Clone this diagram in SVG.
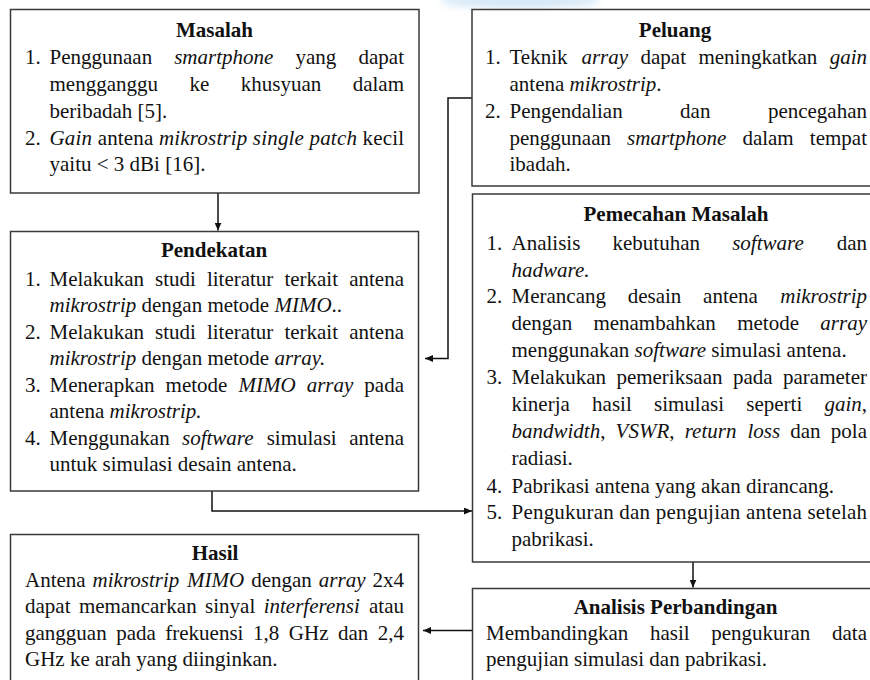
<svg xmlns="http://www.w3.org/2000/svg" width="870" height="680" viewBox="0 0 870 680">
<defs>
<style>
text { font-family: "Liberation Serif", "Times New Roman", serif; font-size: 21px; fill: #111; }
.t { font-weight: bold; text-anchor: middle; }
.i { font-style: italic; }
.e { text-anchor: end; }
.box { fill: #fff; stroke: #3a3a3a; stroke-width: 1.5; }
.conn { fill: none; stroke: #111; stroke-width: 1.5; }
</style>
<marker id="ah" markerUnits="userSpaceOnUse" markerWidth="8" markerHeight="7" refX="8" refY="3.5" orient="auto">
<path d="M0,0 L8,3.5 L0,7 z" fill="#111"/>
</marker>
<filter id="blur"><feGaussianBlur stdDeviation="4"/></filter>
</defs>
<rect x="0" y="0" width="870" height="680" fill="#fff"/>
<ellipse cx="520" cy="0" rx="80" ry="9" fill="#d6e8f7" filter="url(#blur)"/>

<g id="connectors">
<path class="conn" d="M218,193 V230.5" marker-end="url(#ah)"/>
<path class="conn" d="M472,98 H448 V358.5 H425" marker-end="url(#ah)"/>
<path class="conn" d="M212,491 V511 H472" marker-end="url(#ah)"/>
<path class="conn" d="M693,562 V587.5" marker-end="url(#ah)"/>
<path class="conn" d="M472,630.5 H423" marker-end="url(#ah)"/>
</g>

<g id="masalah">
<rect class="box" x="10.5" y="9.5" width="408.5" height="183.5"/>
<text class="t" x="214.5" y="37">Masalah</text>
<text x="25" y="64">1.</text>
<text y="64"><tspan x="49.5">Penggunaan</tspan><tspan x="174.2" class="i">smartphone</tspan><tspan x="295.5">yang</tspan><tspan x="404" class="e">dapat</tspan></text>
<text y="91"><tspan x="49.5">mengganggu</tspan><tspan x="189.5">ke</tspan><tspan x="240.8">khusyuan</tspan><tspan x="404" class="e">dalam</tspan></text>
<text x="49.5" y="117.5">beribadah [5].</text>
<text x="25" y="144.5">2.</text>
<text x="49.5" y="144.5" textLength="354.5" lengthAdjust="spacing"><tspan class="i">Gain</tspan> antena <tspan class="i">mikrostrip single patch</tspan> kecil</text>
<text x="49.5" y="171">yaitu &lt; 3 dBi [16].</text>
</g>

<g id="peluang">
<rect class="box" x="472" y="9.5" width="412" height="176.5"/>
<text class="t" x="675" y="37">Peluang</text>
<text x="485" y="64">1.</text>
<text y="64"><tspan x="509.5">Teknik</tspan><tspan x="581.4" class="i">array</tspan><tspan x="640.5">dapat</tspan><tspan x="698.4">meningkatkan</tspan><tspan x="867" class="e i">gain</tspan></text>
<text x="509.5" y="91">antena <tspan class="i">mikrostrip</tspan>.</text>
<text x="485" y="117.5">2.</text>
<text y="117.5"><tspan x="509.5">Pengendalian</tspan><tspan x="680.1">dan</tspan><tspan x="867" class="e">pencegahan</tspan></text>
<text y="144.5"><tspan x="509.5">penggunaan</tspan><tspan x="627.1" class="i">smartphone</tspan><tspan x="742.4">dalam</tspan><tspan x="867" class="e">tempat</tspan></text>
<text x="509.5" y="171">ibadah.</text>
</g>

<g id="pendekatan">
<rect class="box" x="10.5" y="231.5" width="408" height="259.5"/>
<text class="t" x="214" y="257">Pendekatan</text>
<text x="25" y="285.5">1.</text>
<text y="285.5"><tspan x="49.5">Melakukan</tspan><tspan x="155">studi</tspan><tspan x="206.9">literatur</tspan><tspan x="284.4">terkait</tspan><tspan x="404" class="e">antena</tspan></text>
<text x="49.5" y="312"><tspan class="i">mikrostrip</tspan> dengan metode <tspan class="i">MIMO</tspan>..</text>
<text x="25" y="338.5">2.</text>
<text y="338.5"><tspan x="49.5">Melakukan</tspan><tspan x="155">studi</tspan><tspan x="206.9">literatur</tspan><tspan x="284.4">terkait</tspan><tspan x="404" class="e">antena</tspan></text>
<text x="49.5" y="365"><tspan class="i">mikrostrip</tspan> dengan metode <tspan class="i">array.</tspan></text>
<text x="25" y="391.5">3.</text>
<text y="391.5"><tspan x="49.5">Menerapkan</tspan><tspan x="165.6">metode</tspan><tspan x="238.5" class="i">MIMO</tspan><tspan x="306.7" class="i">array</tspan><tspan x="404" class="e">pada</tspan></text>
<text x="49.5" y="418">antena <tspan class="i">mikrostrip.</tspan></text>
<text x="25" y="444.5">4.</text>
<text y="444.5"><tspan x="49.5">Menggunakan</tspan><tspan x="182" class="i">software</tspan><tspan x="266.7">simulasi</tspan><tspan x="404" class="e">antena</tspan></text>
<text x="49.5" y="471">untuk simulasi desain antena.</text>
</g>

<g id="pemecahan-masalah">
<rect class="box" x="472.5" y="194" width="412" height="368"/>
<text class="t" x="676" y="220.5">Pemecahan Masalah</text>
<text x="486.5" y="250">1.</text>
<text y="250"><tspan x="511.5">Analisis</tspan><tspan x="612.5">kebutuhan</tspan><tspan x="732.2" class="i">software</tspan><tspan x="867" class="e">dan</tspan></text>
<text x="511.5" y="276.5" class="i">hadware.</text>
<text x="486.5" y="303">2.</text>
<text y="303"><tspan x="511.5">Merancang</tspan><tspan x="627.7">desain</tspan><tspan x="703.1">antena</tspan><tspan x="867" class="e i">mikrostrip</tspan></text>
<text y="330"><tspan x="511.5">dengan</tspan><tspan x="593.4">menambahkan</tspan><tspan x="737.2">metode</tspan><tspan x="867" class="e i">array</tspan></text>
<text x="511.5" y="356.5">menggunakan <tspan class="i">software</tspan> simulasi antena.</text>
<text x="486.5" y="384">3.</text>
<text y="384"><tspan x="511.5">Melakukan</tspan><tspan x="616.4">pemeriksaan</tspan><tspan x="732.9">pada</tspan><tspan x="867" class="e">parameter</tspan></text>
<text y="411"><tspan x="511.5">kinerja</tspan><tspan x="592.1">hasil</tspan><tspan x="654">simulasi</tspan><tspan x="746.3">seperti</tspan><tspan x="867" class="e"><tspan class="i">gain</tspan>,</tspan></text>
<text y="438"><tspan x="511.5"><tspan class="i">bandwidth</tspan>,</tspan><tspan x="615.6"><tspan class="i">VSWR</tspan>,</tspan><tspan x="684.7" class="i">return</tspan><tspan x="747.4" class="i">loss</tspan><tspan x="790.3">dan</tspan><tspan x="867" class="e">pola</tspan></text>
<text x="511.5" y="465">radiasi.</text>
<text x="486.5" y="492.5">4.</text>
<text x="511.5" y="492.5">Pabrikasi antena yang akan dirancang.</text>
<text x="486.5" y="519">5.</text>
<text x="511.5" y="519" textLength="355.5" lengthAdjust="spacing">Pengukuran dan pengujian antena setelah</text>
<text x="511.5" y="545.5">pabrikasi.</text>
</g>

<g id="hasil">
<rect class="box" x="10.5" y="534.5" width="408" height="160"/>
<text class="t" x="215" y="560">Hasil</text>
<text y="586.5"><tspan x="25">Antena</tspan><tspan x="92.6" class="i">mikrostrip</tspan><tspan x="187.1" class="i">MIMO</tspan><tspan x="251.2">dengan</tspan><tspan x="318.8" class="i">array</tspan><tspan x="404" class="e">2x4</tspan></text>
<text y="613"><tspan x="25">dapat</tspan><tspan x="78.9">memancarkan</tspan><tspan x="205.1">sinyal</tspan><tspan x="263.7" class="i">interferensi</tspan><tspan x="404" class="e">atau</tspan></text>
<text y="639.5"><tspan x="25">gangguan</tspan><tspan x="116.2">pada</tspan><tspan x="165.3">frekuensi</tspan><tspan x="253">1,8</tspan><tspan x="288.8">GHz</tspan><tspan x="338">dan</tspan><tspan x="404" class="e">2,4</tspan></text>
<text x="25" y="666">GHz ke arah yang diinginkan.</text>
</g>

<g id="analisis-perbandingan">
<rect class="box" x="472.5" y="588.5" width="412" height="110"/>
<text class="t" x="675.5" y="614">Analisis Perbandingan</text>
<text y="640"><tspan x="486">Membandingkan</tspan><tspan x="649.9">hasil</tspan><tspan x="711.2">pengukuran</tspan><tspan x="867" class="e">data</tspan></text>
<text x="486" y="666">pengujian simulasi dan pabrikasi.</text>
</g>
</svg>
